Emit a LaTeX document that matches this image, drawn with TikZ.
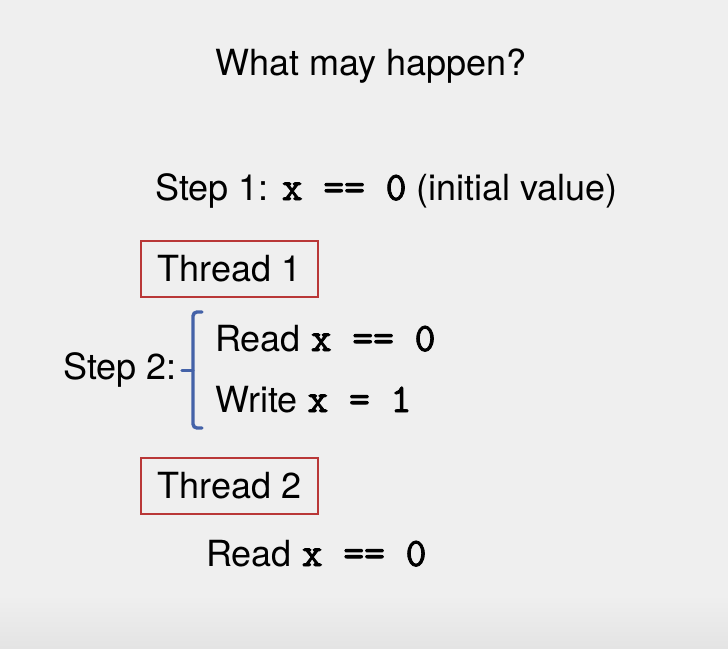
\documentclass[tikz,border=0pt]{standalone}
\usepackage{fontspec}
\setmainfont{TeX Gyre Heros}
\newfontfamily\codefont[FakeBold=2.2, Scale=1.12]{Latin Modern Mono}
\definecolor{SlideGray}{RGB}{239,239,239}
\definecolor{SlideShade}{RGB}{228,228,228}
\definecolor{BoxRed}{RGB}{185,55,55}
\definecolor{BraceBlue}{RGB}{68,98,168}
\usepackage{tikz}
\newcommand{\code}[1]{{\codefont #1}}

\begin{document}
\begin{tikzpicture}[x=1pt, y=-1pt,
	font=\fontsize{36}{43}\selectfont,
	line/.style={anchor=base west, inner sep=0pt},
	threadbox/.style={draw=BoxRed, line width=1.2pt, inner sep=0pt,
		minimum width=177pt, minimum height=56pt},
	bracket/.style={draw=BraceBlue, line width=3.4pt, line cap=round,
		rounded corners=4pt}]
	% fondo
	\fill[SlideGray] (0,0) rectangle (728,648);
	\shade[top color=SlideGray, bottom color=SlideShade] (0,595) rectangle (728,648);
	% titulo
	\node[anchor=base, inner sep=0pt] (title) at (371,75) {What may happen?};
	% paso 1
	\node[line] (step1) at (155,200) {Step 1: \code{x == 0} (initial value)};
	% hilo 1
	\node[threadbox] (thread1) at (229.5,269) {Thread 1};
	\node[line] (read1) at (215,351) {Read \code{x == 0}};
	\node[line] (write1) at (215,412) {Write \code{x = 1}};
	\draw[bracket] (202,312) -- (193,312) -- (193,428) -- (202,428);
	\draw[bracket] (193,370.5) -- (182,370.5);
	\node[line] (step2) at (63,379) {Step 2:};
	% hilo 2
	\node[threadbox] (thread2) at (229.5,486) {Thread 2};
	\node[line] (read2) at (206,566) {Read \code{x == 0}};
\end{tikzpicture}
\end{document}
